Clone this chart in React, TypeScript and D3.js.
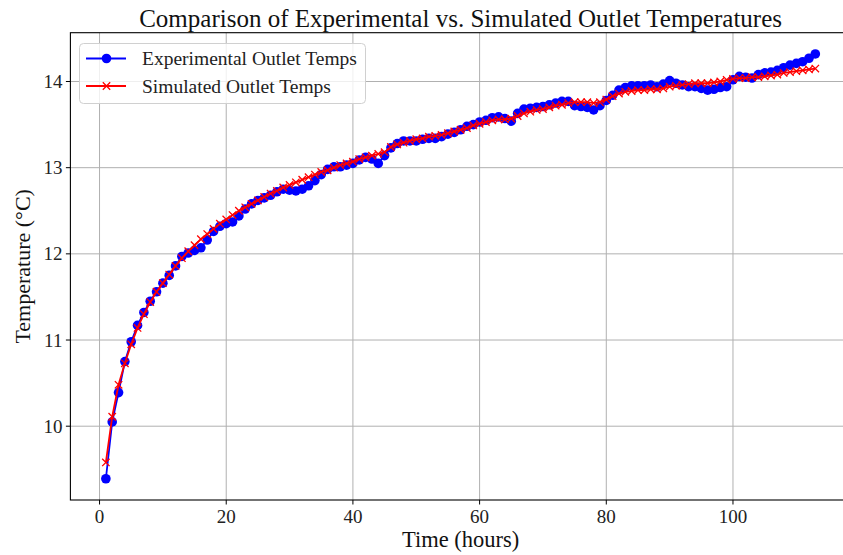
import React from "react";
import * as d3 from "d3";

const hours: number[] = Array.from({ length: 113 }, (_, i) => i + 1);

const experimental: number[] = [
  9.39, 10.05, 10.39, 10.75, 10.98, 11.17, 11.32, 11.45, 11.56, 11.66,
  11.75, 11.86, 11.97, 12.01, 12.04, 12.07, 12.16, 12.26, 12.32, 12.35,
  12.37, 12.44, 12.52, 12.58, 12.62, 12.65, 12.68, 12.72, 12.75, 12.74,
  12.73, 12.75, 12.79, 12.85, 12.92, 12.98, 13.01, 13.01, 13.03, 13.05,
  13.09, 13.12, 13.10, 13.05, 13.14, 13.23, 13.28, 13.31, 13.31, 13.31,
  13.33, 13.34, 13.34, 13.36, 13.39, 13.41, 13.44, 13.48, 13.50, 13.53,
  13.55, 13.58, 13.59, 13.57, 13.54, 13.63, 13.68, 13.69, 13.70, 13.71,
  13.73, 13.75, 13.77, 13.77, 13.72, 13.71, 13.70, 13.67, 13.72, 13.78,
  13.84, 13.90, 13.93, 13.95, 13.95, 13.95, 13.96, 13.94, 13.97, 14.01,
  13.98, 13.96, 13.94, 13.94, 13.92, 13.90, 13.91, 13.93, 13.94, 14.02,
  14.06, 14.05, 14.04, 14.08, 14.10, 14.11, 14.13, 14.16, 14.19, 14.21,
  14.23, 14.27, 14.32,
];

const simulated: number[] = [
  9.58, 10.11, 10.48, 10.73, 10.95, 11.14, 11.30, 11.44, 11.56, 11.66,
  11.76, 11.86, 11.95, 12.03, 12.10, 12.17, 12.23, 12.29, 12.35, 12.40,
  12.45, 12.50, 12.54, 12.58, 12.62, 12.66, 12.70, 12.73, 12.77, 12.80,
  12.83, 12.86, 12.89, 12.92, 12.95, 12.97, 13.00, 13.03, 13.05, 13.07,
  13.10, 13.12, 13.14, 13.16, 13.18, 13.24, 13.27, 13.29, 13.31, 13.33,
  13.34, 13.36, 13.37, 13.38, 13.40, 13.42, 13.44, 13.46, 13.49, 13.51,
  13.53, 13.55, 13.56, 13.56, 13.57, 13.60, 13.63, 13.65, 13.67, 13.68,
  13.70, 13.72, 13.73, 13.75, 13.76, 13.76, 13.76, 13.75, 13.76, 13.79,
  13.83, 13.86, 13.88, 13.89, 13.90, 13.90, 13.91, 13.91, 13.92, 13.94,
  13.95, 13.96, 13.97, 13.98, 13.98, 13.98, 13.99, 14.00, 14.02, 14.03,
  14.04, 14.04, 14.05, 14.05, 14.06, 14.07, 14.08, 14.10, 14.11, 14.12,
  14.13, 14.14, 14.15,
];

const xTicks: number[] = [0, 20, 40, 60, 80, 100];
const yTicks: number[] = [10, 11, 12, 13, 14];

const title = "Comparison of Experimental vs. Simulated Outlet Temperatures";
const xLabel = "Time (hours)";
const yLabel = "Temperature (°C)";
const seriesNames = ["Experimental Outlet Temps", "Simulated Outlet Temps"];

const FONT = "'Liberation Serif', 'Times New Roman', serif";

export default function App() {
  const W = 843;
  const H = 555;
  const left = 70.4;
  const right = 850.8;
  const top = 32.7;
  const bottom = 500;

  const xMin = d3.min(hours)!;
  const xMax = d3.max(hours)!;
  const xPad = (xMax - xMin) * 0.05;
  const allY = experimental.concat(simulated);
  const yMin = d3.min(allY)!;
  const yMax = d3.max(allY)!;
  const yPad = (yMax - yMin) * 0.05;

  const x = d3.scaleLinear().domain([xMin - xPad, xMax + xPad]).range([left, right]);
  const y = d3.scaleLinear().domain([yMin - yPad, yMax + yPad]).range([bottom, top]);

  const line = d3
    .line<number>()
    .x((_, i) => x(hours[i]))
    .y((d) => y(d));

  const blue = "#0000ff";
  const red = "#ff0000";
  const cx = (left + right) / 2;

  const xMark = (px: number, py: number, s: number) =>
    `M${px - s},${py - s}L${px + s},${py + s}M${px - s},${py + s}L${px + s},${py - s}`;

  return (
    <svg
      width={W}
      height={H}
      style={{ position: "absolute", left: 0, top: 0, background: "#fff" }}
      fontFamily={FONT}
    >
      <rect x={0} y={0} width={W} height={H} fill="#fff" />
      {/* grid */}
      {xTicks.map((t) => (
        <line key={"gx" + t} x1={x(t)} x2={x(t)} y1={top} y2={bottom} stroke="#b0b0b0" strokeWidth={1} />
      ))}
      {yTicks.map((t) => (
        <line key={"gy" + t} x1={left} x2={right} y1={y(t)} y2={y(t)} stroke="#b0b0b0" strokeWidth={1} />
      ))}

      {/* experimental */}
      <path d={line(experimental)!} fill="none" stroke={blue} strokeWidth={1.8} />
      {experimental.map((v, i) => (
        <circle key={"b" + i} cx={x(hours[i])} cy={y(v)} r={4.8} fill={blue} />
      ))}

      {/* simulated */}
      <path d={line(simulated)!} fill="none" stroke={red} strokeWidth={1.8} />
      {simulated.map((v, i) => (
        <path key={"r" + i} d={xMark(x(hours[i]), y(v), 3.7)} stroke={red} strokeWidth={1.3} fill="none" />
      ))}

      {/* spines */}
      <rect x={left} y={top} width={right - left} height={bottom - top} fill="none" stroke="#000" strokeWidth={1.1} />

      {/* ticks */}
      {xTicks.map((t) => (
        <g key={"tx" + t}>
          <line x1={x(t)} x2={x(t)} y1={bottom} y2={bottom + 4.5} stroke="#000" strokeWidth={1} />
          <text x={x(t)} y={bottom + 23} textAnchor="middle" fontSize={19} fill="#222">
            {t}
          </text>
        </g>
      ))}
      {yTicks.map((t) => (
        <g key={"ty" + t}>
          <line x1={left - 4.5} x2={left} y1={y(t)} y2={y(t)} stroke="#000" strokeWidth={1} />
          <text x={left - 8} y={y(t) + 6.5} textAnchor="end" fontSize={19} fill="#222">
            {t}
          </text>
        </g>
      ))}

      {/* labels */}
      <text x={cx} y={27} textAnchor="middle" fontSize={25} fill="#111">
        {title}
      </text>
      <text x={cx} y={547} textAnchor="middle" fontSize={22.5} fill="#111">
        {xLabel}
      </text>
      <text
        transform={`translate(${30},${(top + bottom) / 2}) rotate(-90)`}
        textAnchor="middle"
        fontSize={22}
        fill="#111"
      >
        {yLabel}
      </text>

      {/* legend */}
      <g>
        <rect x={79.5} y={43.5} width={286} height={60} rx={4} ry={4} fill="#fff" fillOpacity={0.8} stroke="#d0d0d0" strokeWidth={1} />
        <line x1={86} x2={126} y1={58.5} y2={58.5} stroke={blue} strokeWidth={1.8} />
        <circle cx={106.5} cy={58.5} r={4.8} fill={blue} />
        <text x={142} y={64.5} fontSize={19.5} fill="#222">
          {seriesNames[0]}
        </text>
        <line x1={86} x2={126} y1={86} y2={86} stroke={red} strokeWidth={1.8} />
        <path d={xMark(106.5, 86, 3.7)} stroke={red} strokeWidth={1.3} fill="none" />
        <text x={142} y={92.5} fontSize={19.5} fill="#222">
          {seriesNames[1]}
        </text>
      </g>
    </svg>
  );
}
